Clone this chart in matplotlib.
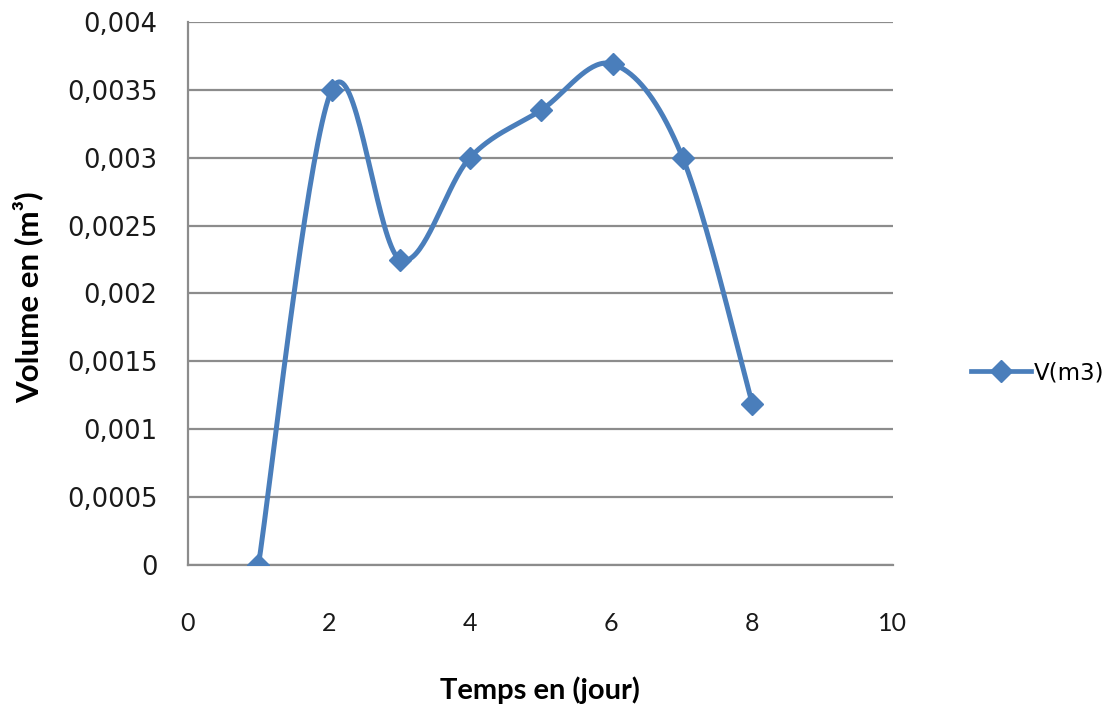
import matplotlib.pyplot as plt
import numpy as np
from matplotlib.ticker import FuncFormatter, MultipleLocator

# Volume mesuré par jour
jours = [1, 2.04, 3.01, 4.0, 5.01, 6.03, 7.02, 8.01]
volumes = [0.0, 0.0035, 0.00225, 0.003, 0.00335, 0.00369, 0.003, 0.001186]

serie = "V(m3)"
bleu = "#4a7ebb"
gris = "#8c8c8c"


def lissage(x, y, n=40):
    # courbe lissée façon tableur (Catmull-Rom en Bézier)
    p = np.column_stack([x, y])
    p = np.vstack([p[0], p, p[-1]])
    sortie = []
    for i in range(1, len(p) - 2):
        p0, p1, p2, p3 = p[i - 1], p[i], p[i + 1], p[i + 2]
        c1 = p1 + (p2 - p0) / 6
        c2 = p2 - (p3 - p1) / 6
        t = np.linspace(0, 1, n)[:, None]
        b = ((1 - t) ** 3) * p1 + 3 * ((1 - t) ** 2) * t * c1 + 3 * (1 - t) * t ** 2 * c2 + t ** 3 * p2
        sortie.append(b)
    b = np.vstack(sortie)
    return b[:, 0], b[:, 1]


fig = plt.figure(figsize=(11.15, 7.14), dpi=100)
ax = fig.add_axes([0.1686, 0.2087, 0.632, 0.7605])

xs, ys = lissage(jours, volumes)
ax.plot(xs, ys, color=bleu, lw=3.6, solid_capstyle="round", zorder=3)
ax.plot(jours, volumes, linestyle="none", marker="D", ms=11, color=bleu, zorder=4)

ax.set_xlim(0, 10)
ax.set_ylim(0, 0.004)
ax.xaxis.set_major_locator(MultipleLocator(2))
ax.yaxis.set_major_locator(MultipleLocator(0.0005))
ax.yaxis.set_major_formatter(FuncFormatter(lambda v, p: "0" if v == 0 else f"{v:.4f}".rstrip("0").replace(".", ",")))

ax.grid(axis="y", color=gris, lw=1.6, zorder=0)
for s in ["top", "right"]:
    ax.spines[s].set_visible(False)
for s in ["left", "bottom"]:
    ax.spines[s].set_color(gris)
    ax.spines[s].set_linewidth(1.6)

ax.tick_params(axis="y", length=0, pad=22, labelsize=18.5, labelcolor="#1a1a1a")
ax.tick_params(axis="x", length=0, pad=34, labelsize=18, labelcolor="#1a1a1a")
for lab in ax.get_xticklabels():
    lab.set_family(["Lato", "DejaVu Sans"])

ax.set_xlabel("Temps en (jour)", family=["Lato", "DejaVu Sans"], fontweight="bold", fontsize=21, labelpad=30)
ax.set_ylabel("Volume en (m³)", family=["Lato", "DejaVu Sans"], fontweight="bold", fontsize=22.5, labelpad=22)
ax.yaxis.set_label_coords(-0.205, 0.494)

ligne, = ax.plot([], [], color=bleu, lw=3.4, marker="D", ms=11)
fig.legend([ligne], [serie], loc="center left", bbox_to_anchor=(0.861, 0.478), frameon=False,
           fontsize=16.5, handlelength=2.6, handletextpad=0.1, borderpad=0)

fig.savefig("out.png", dpi=100)
